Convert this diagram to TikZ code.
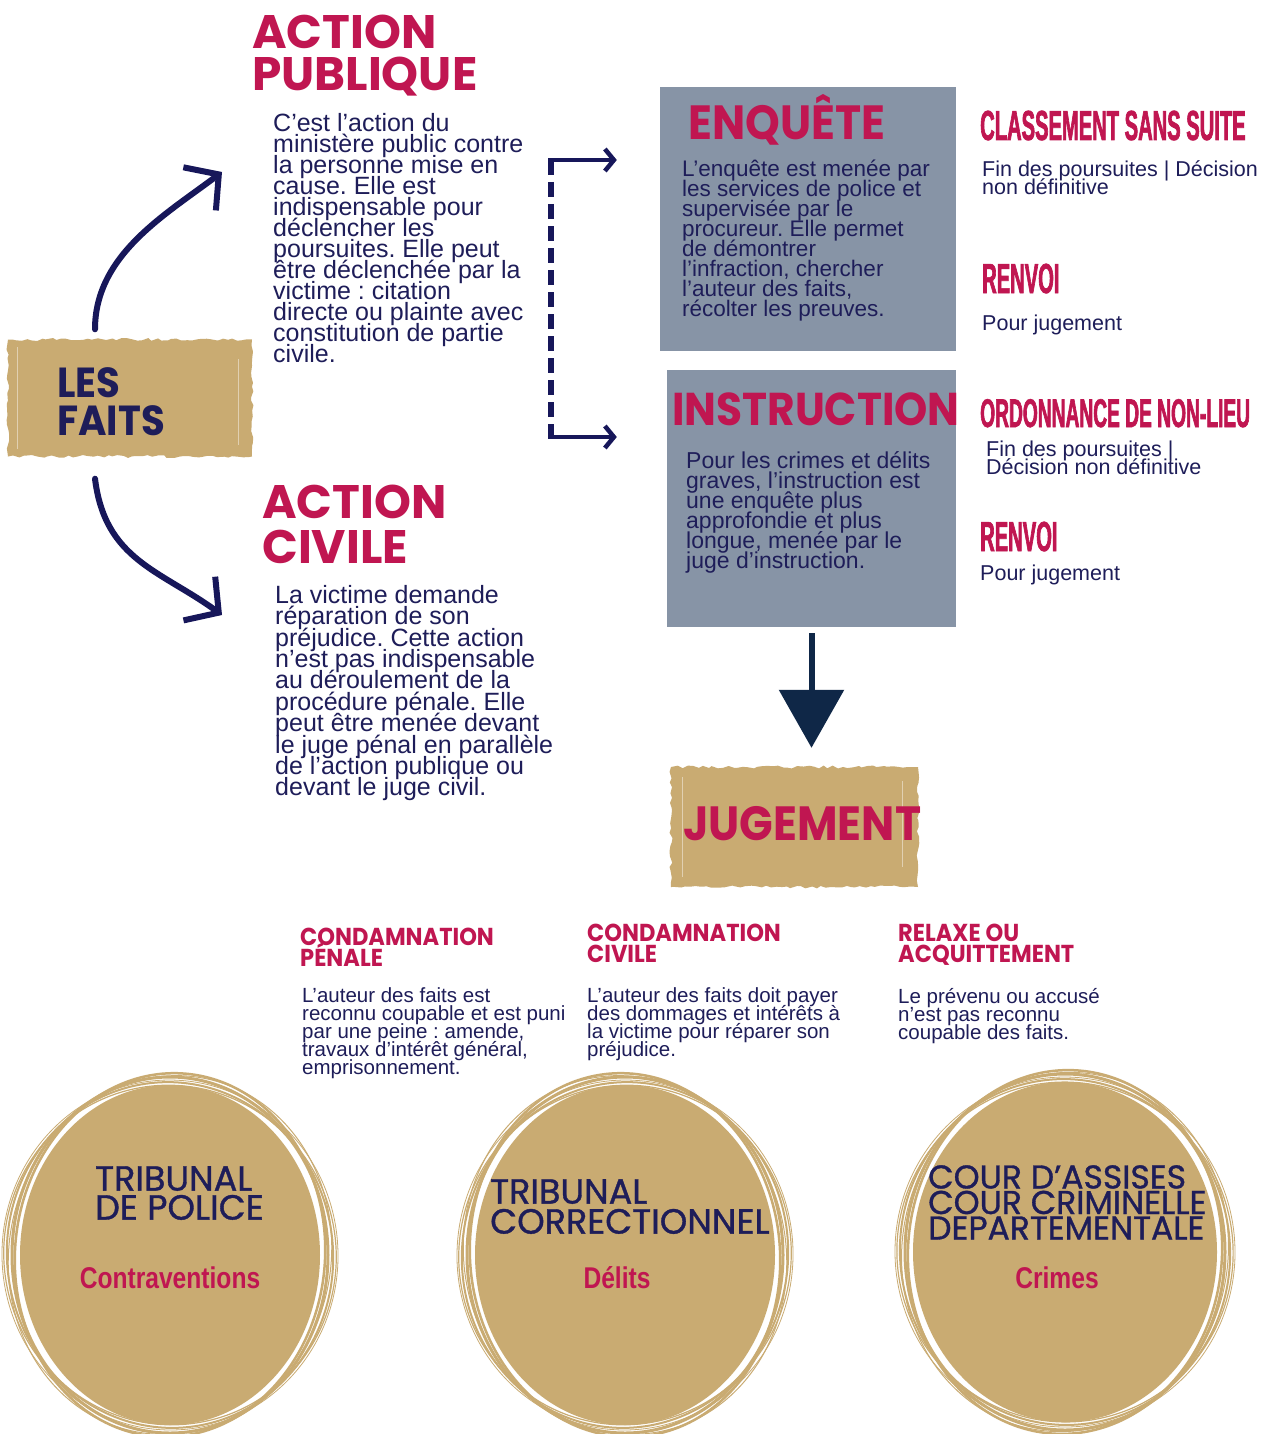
\documentclass[tikz,border=0pt]{standalone}
\usepackage{fontspec}
\setmainfont{Liberation Sans}
\newfontfamily\headfont{Poppins}[FakeStretch=0.92]
\newfontfamily\actionfont{Poppins}
\newfontfamily\courtfont{Poppins}[FakeBold=1]
\newfontfamily\gothfont{Liberation Sans}[FakeStretch=0.48, FakeBold=1.5]
\newfontfamily\narrowfont{Liberation Sans}[FakeStretch=0.82]
\usetikzlibrary{arrows.meta,decorations.pathmorphing}
\frenchspacing
\lineskiplimit=-100pt

\begin{document}
\begin{tikzpicture}[x=1pt, y=-1pt,
  title/.style={inner sep=0pt, align=left, text=TitleRed, font=\headfont\bfseries\fontsize{48}{42}\selectfont},
  subtitle/.style={anchor=north west, inner sep=0pt, align=left, text=TitleRed, font=\headfont\bfseries\fontsize{24.5}{21}\selectfont},
  body/.style={anchor=north west, inner sep=0pt, align=left, text=TextNavy, font=\fontsize{25}{21}\selectfont},
  goth/.style={anchor=base west, inner sep=0pt, text=TitleRed, font=\gothfont\bfseries\fontsize{42}{42}\selectfont},
  court/.style={anchor=north west, inner sep=0pt, align=left, text=TextNavy, font=\courtfont\fontsize{35}{29}\selectfont},
  crime/.style={anchor=base, inner sep=0pt, text=TitleRed, font=\narrowfont\bfseries\fontsize{30}{30}\selectfont},
  gbox/.style={fill=Gold, decorate, decoration={random steps, segment length=5pt, amplitude=1.5pt}},
  greybox/.style={fill=GreyBox},
  streak/.style={white, opacity=0.45, line width=1.2pt},
  brush/.style={ArrowNavy, line width=6pt, line cap=round, -{Straight Barb[length=24pt, width=54pt]}},
  dashline/.style={ArrowNavy, line width=5.5pt, dash pattern=on 15pt off 7pt},
  bracket/.style={ArrowNavy, line width=4.5pt, -{Straight Barb[length=9pt, width=22pt]}},
  downarrow/.style={DeepNavy, line width=6pt, -{Triangle[length=58pt, width=64pt]}}]
\definecolor{TitleRed}{HTML}{C01651};
\definecolor{TextNavy}{HTML}{1E1D59};
\definecolor{ArrowNavy}{HTML}{17175A};
\definecolor{DeepNavy}{HTML}{0F2747};
\definecolor{Gold}{HTML}{C9AB72};
\definecolor{GreyBox}{HTML}{8794A6};

\useasboundingbox[fill=white] (0,0) rectangle (1271,1434);

% les faits
\node[gbox, minimum width=244pt, minimum height=117pt] (faits) at (130,398) {};
\draw[streak] ([shift={(10,8)}]faits.north west) -- ([shift={(10,-8)}]faits.south west);
\draw[streak] ([shift={(-14,20)}]faits.north east) -- ([shift={(-14,-12)}]faits.south east);
\node[anchor=north west, inner sep=0pt, align=left, text=TextNavy, font=\headfont\bfseries\fontsize{42}{38}\selectfont] (faitstxt) at (57,367) {LES\\FAITS};

% action publique
\node[title, anchor=north west, font=\actionfont\bfseries\fontsize{47}{42}\selectfont] (pubtitle) at (252,15) {ACTION\\PUBLIQUE};
\node[body] (pubtext) at (273,113) {C'est l'action du\\ministère public contre\\la personne mise en\\cause. Elle est\\indispensable pour\\déclencher les\\poursuites. Elle peut\\être déclenchée par la\\victime : citation\\directe ou plainte avec\\constitution de partie\\civile.};
\coordinate (upend) at (222,172);
\draw[brush] ([shift={(-35,-10)}]faits.north) .. controls (95,255) and (165,215) .. (upend);

% action civile
\node[title, anchor=north west, font=\actionfont\bfseries\fontsize{47}{45}\selectfont] (civtitle) at (262,485) {ACTION\\CIVILE};
\node[body, font=\fontsize{25}{21.4}\selectfont] (civtext) at (275,585) {La victime demande\\réparation de son\\préjudice. Cette action\\n'est pas indispensable\\au déroulement de la\\procédure pénale. Elle\\peut être menée devant\\le juge pénal en parallèle\\de l'action publique ou\\devant le juge civil.};
\coordinate (downend) at (222,615);
\draw[brush] ([shift={(-35,22)}]faits.south) .. controls (105,560) and (160,570) .. (downend);

% enquete
\node[greybox, minimum width=296pt, minimum height=264pt] (enq) at (808,219) {};
\node[title, anchor=base west] (enqtitle) at (688,140) {ENQUÊTE};
\node[body, font=\fontsize{22.5}{20}\selectfont] (enqtext) at (682,160) {L'enquête est menée par\\les services de police et\\supervisée par le\\procureur. Elle permet\\de démontrer\\l'infraction, chercher\\l'auteur des faits,\\récolter les preuves.};

% instruction
\node[greybox, minimum width=289pt, minimum height=257pt] (instr) at (811.5,498.5) {};
\node[title, anchor=base west, font=\headfont\bfseries\fontsize{46}{42}\selectfont] (instrtitle) at (672,425) {INSTRUCTION};
\node[body, font=\fontsize{23}{20}\selectfont] (instrtext) at (686,451) {Pour les crimes et délits\\graves, l'instruction est\\une enquête plus\\approfondie et plus\\longue, menée par le\\juge d'instruction.};

% crochet
\coordinate (brtop) at (551,160);
\coordinate (brbot) at (551,437);
\draw[dashline] (brtop) -- (brbot);
\draw[bracket, shorten <=-2.75pt, shorten >=43pt] (brtop) -- (brtop -| enq.west);
\draw[bracket, shorten <=-2.75pt, shorten >=50pt] (brbot) -- (brbot -| instr.west);

% issues
\node[goth] (classement) at (980,140) {CLASSEMENT SANS SUITE};
\node[body, font=\fontsize{21.5}{18}\selectfont] (classtext) at (982,160) {Fin des poursuites | Décision\\non définitive};
\node[goth] (renvoiA) at (982,293) {RENVOI};
\node[body, anchor=base west, font=\fontsize{21.5}{18}\selectfont] (pourA) at (982,330) {Pour jugement};
\node[goth, font=\gothfont\bfseries\fontsize{40}{40}\selectfont] (nonlieu) at (980,427) {ORDONNANCE DE NON-LIEU};
\node[body, font=\fontsize{21.5}{18}\selectfont] (nonlieutext) at (986,441) {Fin des poursuites |\\Décision non définitive};
\node[goth] (renvoiB) at (980,551) {RENVOI};
\node[body, anchor=base west, font=\fontsize{21.5}{18}\selectfont] (pourB) at (980,580) {Pour jugement};

% jugement
\node[gbox, minimum width=247pt, minimum height=120pt] (jug) at (794.5,827) {};
\draw[streak] ([shift={(12,10)}]jug.north west) -- ([shift={(12,-10)}]jug.south west);
\draw[streak] ([shift={(-16,14)}]jug.north east) -- ([shift={(-16,-20)}]jug.south east);
\node[title, anchor=base west] (jugtitle) at (683,840) {JUGEMENT};
\draw[downarrow, shorten >=19pt] ([yshift=-6pt]instr.south) -- (instr.south |- jug.north);

% decisions
\node[subtitle] (penaleT) at (300,928) {CONDAMNATION\\PÉNALE};
\node[body, font=\fontsize{20.5}{18}\selectfont] (penaleD) at (302,987) {L'auteur des faits est\\reconnu coupable et est puni\\par une peine : amende,\\travaux d'intérêt général,\\emprisonnement.};
\node[subtitle] (civileT) at (587,924) {CONDAMNATION\\CIVILE};
\node[body, font=\fontsize{20.5}{18}\selectfont] (civileD) at (587,987) {L'auteur des faits doit payer\\des dommages et intérêts à\\la victime pour réparer son\\préjudice.};
\node[subtitle] (relaxeT) at (898,924) {RELAXE OU\\ACQUITTEMENT};
\node[body, font=\fontsize{20.5}{18}\selectfont] (relaxeD) at (898,988) {Le prévenu ou accusé\\n'est pas reconnu\\coupable des faits.};

% tribunal de police
\begin{scope}[shift={(170,1255)}]
\fill[Gold] (0,0) ellipse [x radius=150, y radius=170];
\foreach \a/\rx/\ry/\w in {0/158/178/3, 7/163/173/2, -5/155/182/2.5, 14/166/170/1.2, -11/161/180/1, 3/168/175/0.8}
    \draw[Gold, line width=\w pt, rotate=\a] (0,0) ellipse [x radius=\rx, y radius=\ry];
\node[court] (police) at (-75,-89) {TRIBUNAL\\DE POLICE};
\node[crime] (contrav) at (0,33) {Contraventions};
\end{scope}

% tribunal correctionnel
\begin{scope}[shift={(625,1255)}]
\fill[Gold] (0,0) ellipse [x radius=150, y radius=170];
\foreach \a/\rx/\ry/\w in {0/158/178/3, -7/163/173/2, 5/155/182/2.5, -14/166/170/1.2, 11/161/180/1, -3/168/175/0.8}
    \draw[Gold, line width=\w pt, rotate=\a] (0,0) ellipse [x radius=\rx, y radius=\ry];
\node[court, font=\courtfont\fontsize{35}{30}\selectfont] (correc) at (-135,-76) {TRIBUNAL\\CORRECTIONNEL};
\node[crime] (delits) at (-8,33) {Délits};
\end{scope}

% cour d'assises
\begin{scope}[shift={(1065,1252)}]
\fill[Gold] (0,0) ellipse [x radius=152, y radius=170];
\foreach \a/\rx/\ry/\w in {0/160/178/3, 6/165/173/2, -4/157/182/2.5, 12/168/170/1.2, -9/163/180/1, 2/170/175/0.8}
    \draw[Gold, line width=\w pt, rotate=\a] (0,0) ellipse [x radius=\rx, y radius=\ry];
\node[court, font=\courtfont\fontsize{33}{25.5}\selectfont] (assises) at (-137,-87) {COUR D’ASSISES\\COUR CRIMINELLE\\DEPARTEMENTALE};
\node[crime] (crimes) at (-8,36) {Crimes};
\end{scope}
\end{tikzpicture}
\end{document}
